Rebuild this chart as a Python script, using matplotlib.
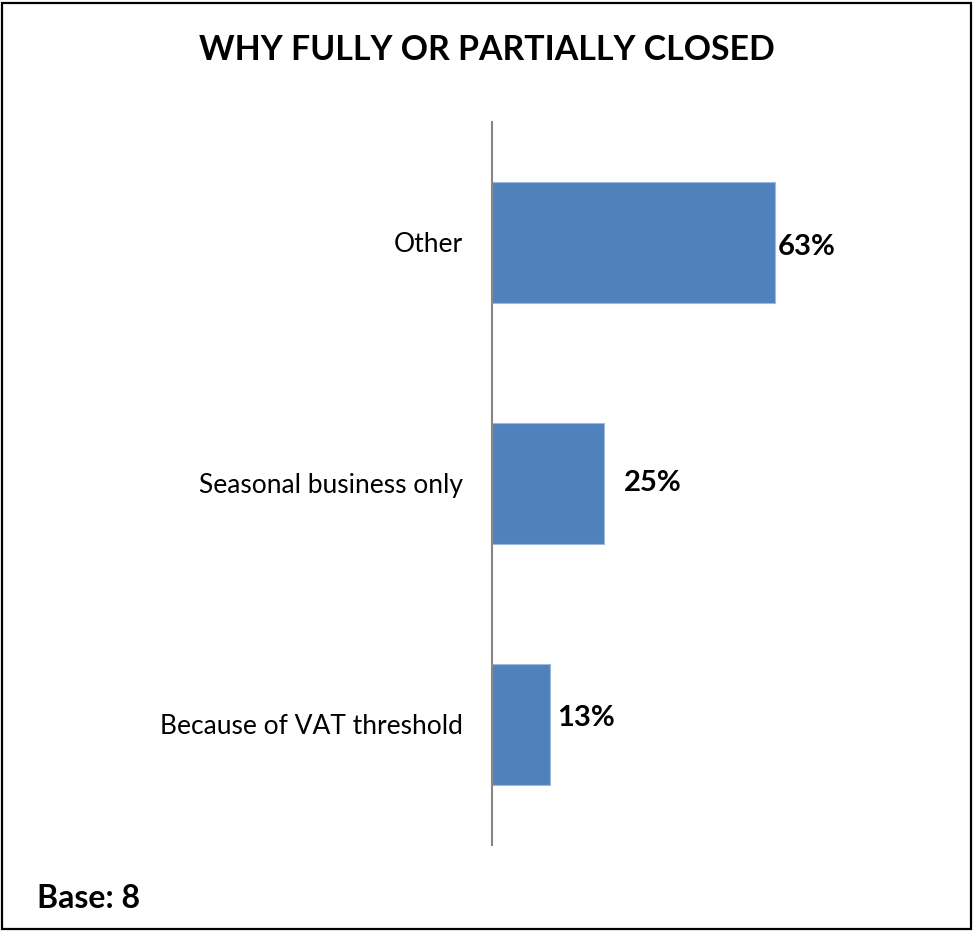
import matplotlib.pyplot as plt
from matplotlib.patches import Rectangle

# survey answers, top to bottom
categories = ['Other', 'Seasonal business only', 'Because of VAT threshold']
values = [63, 25, 13]
labels = ['63%', '25%', '13%']

plt.rcParams['font.family'] = ['Lato', 'DejaVu Sans']

fig = plt.figure(figsize=(9.74, 9.31), dpi=100)
ax = fig.add_axes([0.5051, 0.0924, 0.461, 0.7766])

ypos = list(range(len(categories)))
ax.barh(ypos, values, height=0.505, color='#4F81BD',
        edgecolor='#9DB9DC', linewidth=0.8)
ax.set_xlim(0, 100)
ax.set_ylim(len(categories) - 0.5, -0.5)

ax.set_yticks(ypos)
ax.set_yticklabels(categories, fontsize=19)
ax.tick_params(axis='y', length=0, pad=21)
ax.set_xticks([])
for s in ['top', 'right', 'bottom']:
    ax.spines[s].set_visible(False)
ax.spines['left'].set_color('#868686')
ax.spines['left'].set_linewidth(1.5)

# value labels, nudged a bit differently per bar
offsets = [(2, -3), (14, 0), (5, 5)]
for y, v, lab, off in zip(ypos, values, labels, offsets):
    ax.annotate(lab, (v, y), xytext=off, textcoords='offset points',
                ha='left', va='center', fontsize=21, fontweight='bold')

fig.text(0.5, 0.946, 'WHY FULLY OR PARTIALLY CLOSED', ha='center',
         va='center', fontsize=24.4, fontweight='bold')
fig.text(0.038, 0.035, 'Base: 8', ha='left', va='center',
         fontsize=23, fontweight='bold')

# outer frame
fig.patches.append(Rectangle((0.002, 0.002), 0.995, 0.995,
                             transform=fig.transFigure, fill=False,
                             edgecolor='black', linewidth=1.6))

fig.savefig('out.png', dpi=100)
